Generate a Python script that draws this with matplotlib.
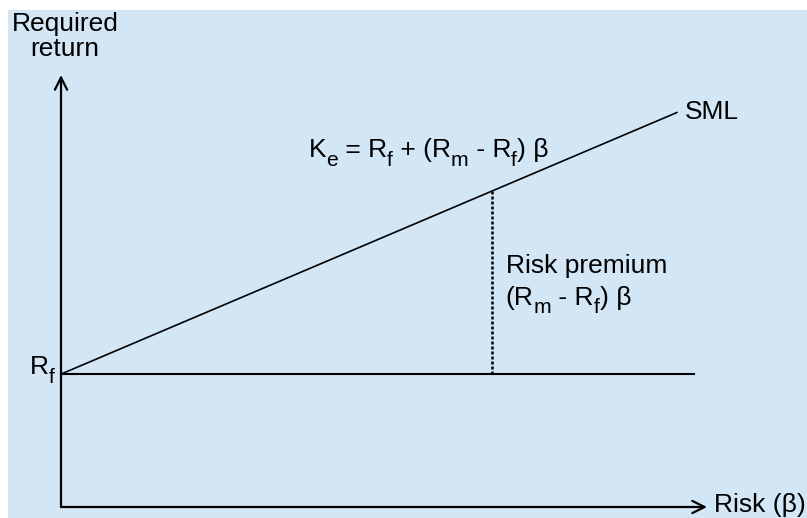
import matplotlib
matplotlib.use("Agg")
import matplotlib.pyplot as plt
from matplotlib.patches import Rectangle

plt.rcParams['font.family'] = ['Liberation Sans', 'DejaVu Sans']

# data (beta on x, required return in % on y)
risk_free = 4.0
market_return = 9.5
beta_point = 1.0
sml_beta = [0.0, 1.43]
sml_return = [4.0, 11.87]
rf_beta = [0.0, 1.47]
rf_return = [4.0, 4.0]
x_max = 1.5
y_max = 13.0

W, H = 807, 518
fig = plt.figure(figsize=(W / 100, H / 100), dpi=100, facecolor='white')

# light blue panel with a thin white margin left and top
fig.patches.append(Rectangle((8 / W, 0), 1 - 8 / W, (H - 10) / H,
                             transform=fig.transFigure, facecolor='#d3e6f5',
                             edgecolor='none', zorder=-10))

ax = fig.add_axes([61 / W, 11 / H, (707 - 61) / W, (507 - 75) / H])
ax.set_xlim(0, x_max)
ax.set_ylim(0, y_max)
ax.set_axis_off()

fs = 19
k = 'black'
renderer = fig.canvas.get_renderer()


def text_width(s, size):
    # width in points, keeps leading/trailing spaces by wrapping in bars
    t1 = fig.text(0, 0, '|' + s + '|', fontsize=size)
    t2 = fig.text(0, 0, '||', fontsize=size)
    w = t1.get_window_extent(renderer).width - t2.get_window_extent(renderer).width
    t1.remove()
    t2.remove()
    return w * 72 / fig.dpi


def sub_text(x, y, pieces, size, ha='left'):
    # pieces: list of (string, is_subscript)
    widths = [text_width(s, size * 0.8 if sub else size) for s, sub in pieces]
    off = -sum(widths) if ha == 'right' else 0
    for (s, sub), w in zip(pieces, widths):
        ax.annotate(s, xy=(x, y), xytext=(off, -0.32 * size if sub else 0),
                    textcoords='offset points', fontsize=size * 0.8 if sub else size,
                    ha='left', va='baseline', annotation_clip=False)
        off += w


# axes with arrows
arrow = dict(arrowstyle='->', lw=1.6, color=k, mutation_scale=22, shrinkA=0, shrinkB=0)
ax.annotate('', xy=(x_max, 0), xytext=(0, 0), arrowprops=arrow, annotation_clip=False)
ax.annotate('', xy=(0, y_max), xytext=(0, 0), arrowprops=arrow, annotation_clip=False)

# SML and risk-free line
ax.plot(sml_beta, sml_return, color=k, lw=1.2, clip_on=False)
ax.plot(rf_beta, rf_return, color=k, lw=1.5, clip_on=False)

# risk premium at beta = 1
ax.plot([beta_point, beta_point], [risk_free, market_return], color=k, lw=1.8,
        linestyle=(0, (1.2, 0.8)), clip_on=False)

# labels
ax.text(0.009, 14.17, 'Required\nreturn', ha='center', va='center', fontsize=fs,
        linespacing=1.05)
sub_text(-0.014, risk_free, [('R', 0), ('f', 1)], fs, ha='right')
sub_text(0.575, 10.53, [('K', 0), ('e', 1), (' = R', 0), ('f', 1), (' + (R', 0),
                        ('m', 1), (' - R', 0), ('f', 1), (') β', 0)], fs)
ax.text(1.448, 11.88, 'SML', ha='left', va='center', fontsize=fs)
ax.text(1.0325, 7.04, 'Risk premium', ha='left', va='baseline', fontsize=fs)
sub_text(1.0325, 6.08, [('(R', 0), ('m', 1), (' - R', 0), ('f', 1), (') β', 0)], fs)
ax.text(1.517, 0.06, 'Risk (β)', ha='left', va='center', fontsize=fs)

fig.savefig('out.png', dpi=100, facecolor='white')
